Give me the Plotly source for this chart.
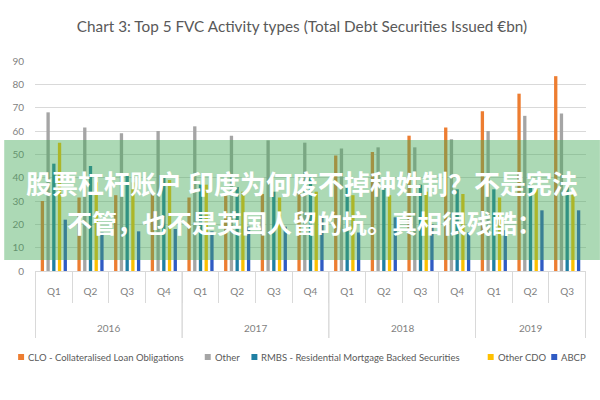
import plotly.graph_objects as go

years = ["2016"] * 4 + ["2017"] * 4 + ["2018"] * 4 + ["2019"] * 3
quarters = ["Q1", "Q2", "Q3", "Q4"] * 3 + ["Q1", "Q2", "Q3"]

clo = [30, 31.5, 32.5, 33.5, 31.5, 32.5, 33, 34, 49.5, 51, 58, 61.5, 68.5, 76, 83.5]
other = [68, 61.5, 59, 60, 62, 58, 56, 55, 52.5, 53, 53, 56.5, 60, 66.5, 67.5]
rmbs = [46, 45, 41, 40, 37, 36, 34, 40, 36, 36, 37, 35, 35, 37, 36]
other_cdo = [55, 38, 38, 39, 37, 34, 31.5, 34, 32.5, 32.5, 34, 33, 31.5, 35, 33]
abcp = [22, 16.5, 17, 18, 17, 19, 19, 24, 16.5, 23, 20, 16.5, 17.5, 26, 26]

series_names = ["CLO - Collateralised Loan Obligations", "Other",
                "RMBS - Residential Mortgage Backed Securities", "Other CDO", "ABCP"]
series_values = [clo, other, rmbs, other_cdo, abcp]
series_colors = ["#ED7D31", "#A5A5A5", "#1F7FA3", "#FFC000", "#2F5BC4"]

title_text = "Chart 3: Top 5 FVC Activity types (Total Debt Securities Issued €bn)"
overlay_line1 = "股票杠杆账户 印度为何废不掉种姓制？不是宪法"
overlay_line2 = "不管，也不是英国人留的坑。真相很残酷："

# unique category keys, quarter shown as tick text
cats = [f"{y} {q}" for y, q in zip(years, quarters)]

W, H = 600, 400
ML, MR, MT, MB = 31, 14, 61, 129
PW, PH = W - ML - MR, H - MT - MB


def px_x(p):
    return (p - ML) / PW


def px_y(p):
    return (H - MB - p) / PH


fig = go.Figure()
for name, vals, col in zip(series_names, series_values, series_colors):
    fig.add_trace(go.Bar(x=cats, y=vals, name=name, showlegend=False,
                         marker=dict(color=col, line=dict(width=0))))

font_fam = "Lato, Open Sans, sans-serif"
grey_line = "#D9D9D9"

fig.update_layout(
    width=W, height=H,
    margin=dict(l=ML, r=MR, t=MT, b=MB),
    paper_bgcolor="white", plot_bgcolor="white",
    barmode="group", bargap=0.22, bargroupgap=0.42,
    title=dict(text=title_text, x=(77 + 527) / 2 / W, xanchor="center", y=1 - 27 / H,
               yanchor="middle",
               font=dict(family=font_fam, size=15.3, color="#595959")),
    yaxis=dict(range=[0, 90], dtick=10, showgrid=True, gridcolor=grey_line, gridwidth=1.3,
               zeroline=False, showline=False, ticks="",
               tickfont=dict(family=font_fam, size=10, color="#7F7F7F"), ticklabelstandoff=10),
    xaxis=dict(type="category", categoryorder="array", categoryarray=cats,
               tickvals=cats, ticktext=quarters,
               showline=True, linecolor=grey_line, linewidth=1,
               ticks="outside", ticklen=31, tickcolor=grey_line, tickwidth=1,
               tickson="boundaries", ticklabelstandoff=11,
               tickfont=dict(family=font_fam, size=10, color="#7F7F7F")),
    showlegend=False,
)

# year labels and year dividers below the quarter labels
year_order = []
for y in years:
    if y not in year_order:
        year_order.append(y)
for yr in year_order:
    idx = [i for i, y in enumerate(years) if y == yr]
    fig.add_annotation(text=yr, xref="x", yref="paper", x=(idx[0] + idx[-1]) / 2,
                       y=px_y(328), showarrow=False, yanchor="middle",
                       font=dict(family=font_fam, size=10, color="#7F7F7F"))
    for b in (idx[0] - 0.5, idx[-1] + 0.5):
        fig.add_shape(type="line", xref="x", yref="paper", x0=b, x1=b,
                      y0=0, y1=px_y(338), line=dict(color=grey_line, width=1))

# legend drawn below the plot
leg_sq = [17, 205, 252, 490, 554]
for name, col, sx in zip(series_names, series_colors, leg_sq):
    fig.add_shape(type="rect", xref="paper", yref="paper",
                  x0=px_x(sx - 3), x1=px_x(sx + 3), y0=px_y(360), y1=px_y(354),
                  fillcolor=col, line=dict(width=0))
    fig.add_annotation(text=name, xref="paper", yref="paper", x=px_x(sx + 5), y=px_y(357),
                       xanchor="left", yanchor="middle", showarrow=False,
                       font=dict(family=font_fam, size=9.5, color="#595959"))

# semi-transparent green band overlay with text (watermark in the reference)
fig.add_shape(type="rect", xref="paper", yref="paper",
              x0=px_x(0), x1=px_x(W), y0=px_y(260), y1=px_y(140),
              fillcolor="rgba(70,170,90,0.45)", line=dict(width=0), layer="above")
fig.add_annotation(text="<b>" + overlay_line1 + "</b>", xref="paper", yref="paper",
                   x=px_x(300), y=px_y(182), showarrow=False,
                   font=dict(family="Noto Sans CJK SC", size=26, color="white"),
                   xanchor="center", yanchor="middle")
fig.add_annotation(text="<b>" + overlay_line2 + "</b>", xref="paper", yref="paper",
                   x=px_x(302), y=px_y(222), showarrow=False,
                   font=dict(family="Noto Sans CJK SC", size=25, color="white"),
                   xanchor="center", yanchor="middle")

fig.write_html("out.html")
